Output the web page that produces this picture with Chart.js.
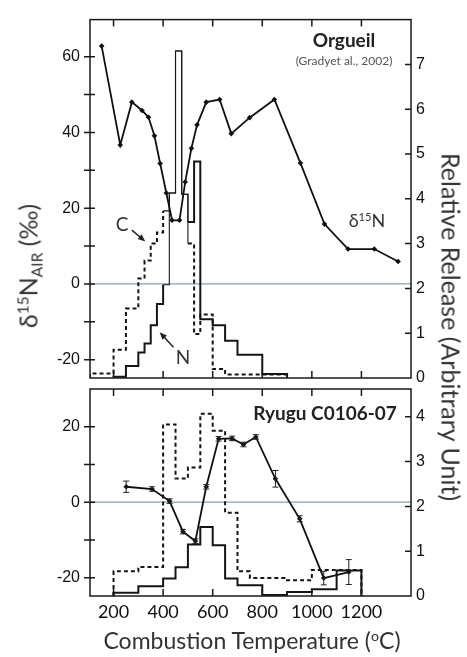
<!DOCTYPE html>
<html>
<head>
<meta charset="utf-8">
<script src="https://cdn.jsdelivr.net/npm/chart.js@4.4.1/dist/chart.umd.min.js"></script>
<style>
  body { margin: 0; background: #fff; }
  #wrap { position: relative; width: 467px; height: 657px; overflow: hidden; font-family: Lato, "Open Sans", sans-serif; color: #333; }
  canvas { position: absolute; left: 0; top: 0; }
  .lbl { position: absolute; white-space: nowrap; line-height: 1; transform: translate(-50%, -50%); }
  .sup { font-size: 0.62em; vertical-align: 0.55em; line-height: 0; }
  .sub { font-size: 0.62em; vertical-align: -0.3em; line-height: 0; }
</style>
</head>
<body>
<div id="wrap">
  <canvas id="orgueil" width="467" height="657"></canvas>
  <canvas id="ryugu" width="467" height="657"></canvas>

  <div class="lbl" style="left:28px; top:266px; font-size:25px; transform:translate(-50%,-50%) rotate(-90deg);">δ<span class="sup">15</span>N<span class="sub">AIR</span> (‰)</div>
  <div class="lbl" style="left:451px; top:327px; font-size:25px; transform:translate(-50%,-50%) rotate(90deg);">Relative Release (Arbitrary Unit)</div>
  <div class="lbl" style="left:252px; top:640px; font-size:23px;">Combustion Temperature (<span class="sup">o</span>C)</div>

  <div class="lbl" style="left:344px; top:39px; font-size:19px; font-weight:bold; color:#222;">Orgueil</div>
  <div class="lbl" style="left:344px; top:61px; font-size:12px; color:#555;">(Gradyet al., 2002)</div>
  <div class="lbl" style="left:367px; top:220px; font-size:18px;">δ<span class="sup">15</span>N</div>
  <div class="lbl" style="left:122px; top:223px; font-size:19px;">C</div>
  <div class="lbl" style="left:183px; top:356px; font-size:19px;">N</div>
  <div class="lbl" style="left:325px; top:412px; font-size:19px; font-weight:bold; color:#222;">Ryugu C0106-07</div>
</div>

<script>
const tempTicks = [200, 400, 600, 800, 1000, 1200];

// Orgueil, Grady et al. 2002
const orgTemp = [152, 227, 274, 315, 341, 365, 388, 413, 436, 466, 489, 514, 537, 574, 628, 675, 749, 849, 954, 1051, 1146, 1252, 1348];
const orgD15N = [62.8, 36.7, 48.0, 45.8, 44.0, 39.1, 31.8, 24.0, 16.8, 16.8, 26.9, 35.8, 42.0, 48.0, 48.7, 39.7, 43.9, 48.7, 31.9, 15.8, 9.2, 9.2, 5.9];
const orgNEdges = [200, 250, 300, 325, 350, 375, 400, 425, 450, 475, 500, 525, 550, 600, 650, 700, 800, 900];
const orgNRel = [0.03, 0.27, 0.57, 0.77, 1.18, 1.65, 2.08, 4.13, 7.3, 4.1, 3.48, 4.83, 1.31, 1.18, 0.83, 0.52, 0.09];
const orgCEdges = [105, 200, 250, 300, 325, 350, 375, 400, 425, 450, 475, 500, 525, 550, 600, 650, 900];
const orgCRel = [0.1, 0.63, 1.55, 2.22, 2.62, 3.0, 3.25, 3.73, 4.13, 7.3, 4.1, 3.0, 0.98, 1.42, 0.2, 0.08];

// Ryugu C0106-07
const ryuTemp = [251, 355, 426, 480, 530, 574, 624, 678, 724, 774, 853, 951, 1048, 1149];
const ryuD15N = [4.1, 3.5, 0.3, -7.8, -10.3, 4.1, 16.8, 16.9, 15.3, 17.3, 6.2, -4.4, -20.1, -18.5];
const ryuErr = [1.5, 0.6, 0.6, 0.6, 0.6, 0.6, 0.6, 0.6, 0.6, 0.6, 2.2, 0.8, 1.8, 3.3];
const ryuNEdges = [200, 300, 400, 450, 500, 550, 600, 650, 700, 800, 900, 1000, 1100, 1200];
const ryuNRel = [0.07, 0.22, 0.39, 0.64, 1.15, 1.54, 1.13, 0.39, 0.24, 0.02, 0.09, 0.15, 0.57];
const ryuCEdges = [200, 300, 400, 450, 500, 550, 600, 650, 700, 750, 900, 1000, 1200];
const ryuCRel = [0.55, 0.65, 3.83, 2.62, 2.87, 4.07, 3.69, 1.86, 0.55, 0.4, 0.35, 0.58];

// arrows pointing at the C and N release curves (temperature, d15N)
const arrowC = [[274, 14.2], [328, 11.2]];
const arrowN = [[442, -16.7], [386, -12.8]];

Chart.defaults.font.family = '"Liberation Sans", Arial, sans-serif';
Chart.defaults.color = '#111';

// histogram outline: one point per bin start, closed to zero at both ends
function steps(edges, vals) {
  const pts = [{x: edges[0], y: 0}];
  vals.forEach((v, i) => pts.push({x: edges[i], y: v}));
  pts.push({x: edges[edges.length - 1], y: 0});
  return pts;
}

function histLine(edges, vals, dashed, extra) {
  return Object.assign({
    data: steps(edges, vals), yAxisID: 'y1', stepped: true,
    borderColor: '#151515', borderWidth: 2, borderDash: dashed ? [4, 3] : [],
    pointRadius: 0, fill: false
  }, extra || {});
}

function isoLine(temps, vals) {
  return {
    data: temps.map((t, i) => ({x: t, y: vals[i]})), yAxisID: 'y',
    borderColor: '#111', borderWidth: 1.8, pointStyle: 'rectRot', pointRadius: 2.8,
    pointBackgroundColor: '#111', pointBorderWidth: 0, tension: 0
  };
}

// the peak bins of Orgueil are drawn as thin open bars
const thinPeak = c => c.p0.parsed.x >= 400 && c.p0.parsed.x < 500;

const framePlugin = {
  id: 'frame',
  beforeDatasetsDraw(chart) {
    const {ctx, chartArea: a, scales} = chart;
    const y0 = scales.y.getPixelForValue(0);
    ctx.save();
    ctx.strokeStyle = '#8aa0a8';
    ctx.lineWidth = 1.2;
    ctx.beginPath();
    ctx.moveTo(a.left, y0);
    ctx.lineTo(a.right, y0);
    ctx.stroke();
    ctx.restore();
  },
  afterDatasetsDraw(chart) {
    const {ctx, chartArea: a, scales: {x, y, y1}} = chart;
    ctx.save();
    ctx.strokeStyle = '#1a1a1a';
    ctx.lineWidth = 1.5;
    ctx.strokeRect(a.left, a.top, a.right - a.left, a.bottom - a.top);
    ctx.beginPath();
    tempTicks.forEach(t => {
      const px = x.getPixelForValue(t);
      ctx.moveTo(px, a.top); ctx.lineTo(px, a.top + 7);
      ctx.moveTo(px, a.bottom); ctx.lineTo(px, a.bottom - 7);
    });
    y.ticks.forEach(t => {
      const py = y.getPixelForValue(t.value);
      ctx.moveTo(a.left - 6, py); ctx.lineTo(a.left + 5, py);
    });
    y1.ticks.forEach(t => {
      if (t.value <= 0) return;
      const py = y1.getPixelForValue(t.value);
      ctx.moveTo(a.right - 6, py); ctx.lineTo(a.right, py);
    });
    ctx.stroke();
    ctx.restore();
  }
};

const arrowPlugin = {
  id: 'arrows',
  afterDatasetsDraw(chart) {
    const {ctx, scales: {x, y}} = chart;
    ctx.save();
    ctx.strokeStyle = '#222';
    ctx.fillStyle = '#222';
    ctx.lineWidth = 1.5;
    [arrowC, arrowN].forEach(([from, to]) => {
      const x0 = x.getPixelForValue(from[0]), y0 = y.getPixelForValue(from[1]);
      const x1 = x.getPixelForValue(to[0]), y1 = y.getPixelForValue(to[1]);
      const ang = Math.atan2(y1 - y0, x1 - x0);
      ctx.beginPath();
      ctx.moveTo(x0, y0);
      ctx.lineTo(x1 - 5 * Math.cos(ang), y1 - 5 * Math.sin(ang));
      ctx.stroke();
      ctx.beginPath();
      ctx.moveTo(x1, y1);
      ctx.lineTo(x1 - 8 * Math.cos(ang - 0.4), y1 - 8 * Math.sin(ang - 0.4));
      ctx.lineTo(x1 - 8 * Math.cos(ang + 0.4), y1 - 8 * Math.sin(ang + 0.4));
      ctx.closePath();
      ctx.fill();
    });
    ctx.restore();
  }
};

const errorPlugin = {
  id: 'errors',
  afterDatasetsDraw(chart) {
    const {ctx, scales: {x, y}} = chart;
    ctx.save();
    ctx.strokeStyle = '#222';
    ctx.lineWidth = 1;
    ctx.beginPath();
    ryuTemp.forEach((t, i) => {
      const px = x.getPixelForValue(t);
      const hi = y.getPixelForValue(ryuD15N[i] + ryuErr[i]);
      const lo = y.getPixelForValue(ryuD15N[i] - ryuErr[i]);
      ctx.moveTo(px, hi); ctx.lineTo(px, lo);
      ctx.moveTo(px - 3, hi); ctx.lineTo(px + 3, hi);
      ctx.moveTo(px - 3, lo); ctx.lineTo(px + 3, lo);
    });
    ctx.stroke();
    ctx.restore();
  }
};

function makeChart(id, cfg) {
  return new Chart(document.getElementById(id), {
    type: 'line',
    data: {datasets: cfg.datasets},
    options: {
      responsive: false,
      animation: false,
      events: [],
      layout: {padding: {top: cfg.top, bottom: cfg.bottom, left: 0, right: 0}},
      plugins: {legend: {display: false}, tooltip: {enabled: false}},
      scales: {
        x: {
          type: 'linear', min: 105, max: 1400, display: cfg.showX,
          afterBuildTicks: s => { s.ticks = tempTicks.map(v => ({value: v})); },
          afterFit: s => { s.height = cfg.showX ? 61 : 0; },
          grid: {display: false, drawTicks: false}, border: {display: false},
          ticks: {font: {family: 'Lato', size: 18}, color: '#111', padding: 5, maxRotation: 0, autoSkip: false,
                  callback: v => String(v)}
        },
        y: {
          position: 'left', min: cfg.yMin, max: cfg.yMax,
          afterBuildTicks: s => { s.ticks = cfg.yTicks.map(v => ({value: v})); },
          afterFit: s => { s.width = 90; },
          grid: {display: false, drawTicks: false}, border: {display: false},
          ticks: {font: {size: 16}, padding: 10, callback: v => (v % 20 === 0 ? String(v) : '')}
        },
        y1: {
          position: 'right', min: 0, max: cfg.rMax,
          afterBuildTicks: s => { s.ticks = cfg.rTicks.map(v => ({value: v})); },
          afterFit: s => { s.width = 56; },
          grid: {display: false, drawTicks: false}, border: {display: false},
          ticks: {font: {size: 16}, padding: 5}
        }
      }
    },
    plugins: [framePlugin].concat(cfg.plugins || [])
  });
}

makeChart('orgueil', {
  top: 16, bottom: 279, showX: false,
  yMin: -24.85, yMax: 69.8, yTicks: [-20, -10, 0, 10, 20, 30, 40, 50, 60],
  rMax: 8, rTicks: [0, 1, 2, 3, 4, 5, 6, 7],
  datasets: [
    isoLine(orgTemp, orgD15N),
    histLine(orgNEdges, orgNRel, false, {
      segment: {borderWidth: c => (thinPeak(c) ? 1.1 : 2)}
    }),
    histLine(orgCEdges, orgCRel, true, {
      segment: {
        borderWidth: c => (thinPeak(c) ? 1.1 : 2),
        borderDash: c => (thinPeak(c) ? [] : [4, 3])
      }
    })
  ],
  plugins: [arrowPlugin]
});

makeChart('ryugu', {
  top: 389, bottom: 0, showX: true,
  yMin: -24.85, yMax: 30, yTicks: [-20, -10, 0, 10, 20],
  rMax: 4.62, rTicks: [0, 1, 2, 3, 4],
  datasets: [
    isoLine(ryuTemp, ryuD15N),
    histLine(ryuNEdges, ryuNRel, false),
    histLine(ryuCEdges, ryuCRel, true)
  ],
  plugins: [errorPlugin]
});
</script>
</body>
</html>
